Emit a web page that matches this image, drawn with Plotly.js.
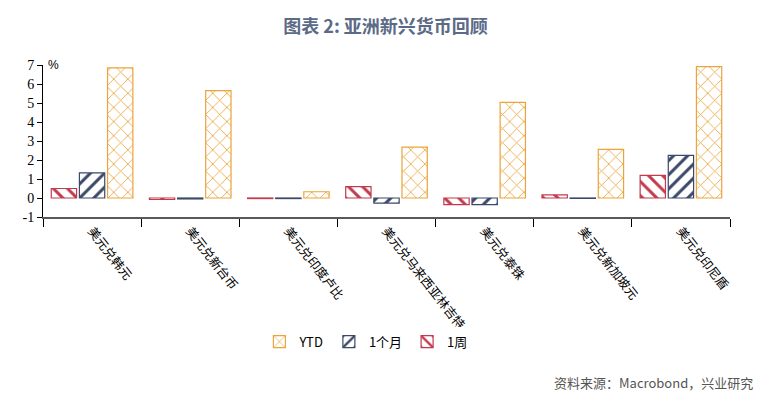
<!DOCTYPE html>
<html>
<head>
<meta charset="utf-8">
<script src="https://cdn.plot.ly/plotly-3.0.1.min.js"></script>
<style>html,body{margin:0;padding:0;background:#fff;}#chart{width:771px;height:404px;}</style>
</head>
<body>
<div id="chart"></div>
<script>
const categories = ['美元兑韩元','美元兑新台币','美元兑印度卢比','美元兑马来西亚林吉特','美元兑泰铢','美元兑新加坡元','美元兑印尼盾'];
const week1 = [0.50, -0.08, -0.03, 0.60, -0.35, 0.16, 1.19];
const month1 = [1.32, -0.05, -0.03, -0.27, -0.35, -0.02, 2.24];
const ytd = [6.85, 5.65, 0.33, 2.68, 5.03, 2.56, 6.91];
const yTicks = [-1, 0, 1, 2, 3, 4, 5, 6, 7];

const RED = '#c23a4d', NAVY = '#3b4868', ORANGE = '#e9a43c';

function bar(name, vals, color, shape, size, solidity) {
  return {
    type: 'bar', name: name, x: categories, y: vals,
    marker: {
      color: color,
      line: {color: color, width: 1.2},
      pattern: {shape: shape, fgcolor: color, bgcolor: '#ffffff', size: size, solidity: solidity, fillmode: 'replace'}
    },
    hoverinfo: 'none'
  };
}

const data = [
  bar('1周', week1, RED, '\\', 10, 0.3),
  bar('1个月', month1, NAVY, '/', 10, 0.3),
  bar('YTD', ytd, ORANGE, 'x', 10, 0.16)
];

const layout = {
  width: 771, height: 404,
  margin: {l: 43, r: 41, t: 65, b: 187},
  paper_bgcolor: '#ffffff', plot_bgcolor: '#ffffff',
  barmode: 'group', bargap: 0.14, bargroupgap: 0.1,
  showlegend: true,
  title: {
    text: '<b>图表 2: 亚洲新兴货币回顾</b>',
    font: {family: 'Noto Sans CJK SC, sans-serif', size: 18, color: '#5b6b86'},
    x: 0.5, xanchor: 'center', y: 0.935, yanchor: 'middle', yref: 'container'
  },
  xaxis: {
    type: 'category',
    showline: true, linecolor: '#595959', linewidth: 2,
    ticks: 'outside', tickson: 'boundaries', ticklen: 8, tickcolor: '#000', tickwidth: 1,
    tickangle: 52,
    tickfont: {family: 'Noto Sans CJK SC, sans-serif', size: 12.5, color: '#000'},
    showgrid: false, zeroline: false, fixedrange: true
  },
  yaxis: {
    range: [-1, 7], tickmode: 'array', tickvals: yTicks, ticktext: yTicks.map(String),
    showline: true, linecolor: '#000', linewidth: 1,
    ticks: 'outside', ticklen: 5, tickcolor: '#000',
    tickfont: {family: "'Liberation Serif', 'Times New Roman', serif", size: 14, color: '#000'},
    showgrid: false, zeroline: false, fixedrange: true
  },
  legend: {
    orientation: 'h', traceorder: 'reversed',
    x: 0.47, xanchor: 'center', y: -0.82, yanchor: 'middle',
    font: {family: 'Noto Sans CJK SC, sans-serif', size: 13, color: '#000'},
    itemwidth: 30
  },
  annotations: [
    {text: '%', xref: 'paper', yref: 'paper', x: 0.005, y: 1.0, xanchor: 'left', yanchor: 'middle',
     showarrow: false, font: {family: 'Liberation Sans, sans-serif', size: 12, color: '#000'}},
    {text: '资料来源：Macrobond，兴业研究', xref: 'paper', yref: 'paper', x: 1.036, y: -1.09,
     xanchor: 'right', yanchor: 'middle', showarrow: false,
     font: {family: 'Noto Sans CJK SC, sans-serif', size: 13, color: '#555'}}
  ]
};

Plotly.newPlot('chart', data, layout, {displayModeBar: false, staticPlot: true});
</script>
</body>
</html>
